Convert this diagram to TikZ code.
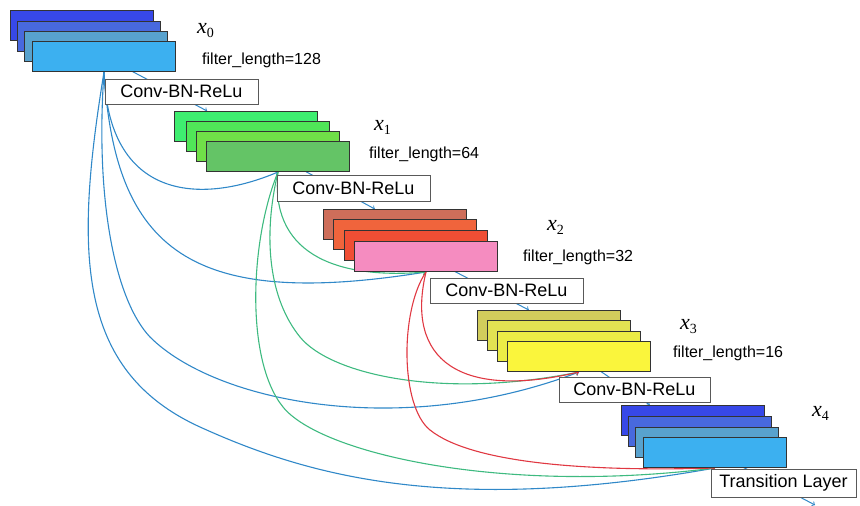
\documentclass[tikz,border=0pt]{standalone}
\usepackage{fontspec}
\setmainfont{Liberation Sans}
\newfontfamily\xfont{Liberation Serif}
\usetikzlibrary{calc}

\pgfdeclarelayer{background}
\pgfsetlayers{background,main}

\definecolor{bluA}{RGB}{55,72,232}
\definecolor{bluB}{RGB}{72,105,222}
\definecolor{bluC}{RGB}{88,162,206}
\definecolor{bluD}{RGB}{60,176,240}
\definecolor{grnA}{RGB}{62,238,112}
\definecolor{grnB}{RGB}{80,230,88}
\definecolor{grnC}{RGB}{112,224,72}
\definecolor{grnD}{RGB}{100,196,102}
\definecolor{redA}{RGB}{206,110,90}
\definecolor{redB}{RGB}{240,100,60}
\definecolor{redC}{RGB}{240,78,52}
\definecolor{redD}{RGB}{245,140,192}
\definecolor{yelA}{RGB}{210,205,92}
\definecolor{yelB}{RGB}{226,226,82}
\definecolor{yelC}{RGB}{236,236,70}
\definecolor{yelD}{RGB}{250,245,60}
\definecolor{cblue}{RGB}{48,136,200}
\definecolor{cgreen}{RGB}{62,186,128}
\definecolor{cred}{RGB}{224,56,66}

\newcommand{\xvar}[1]{{\xfont\fontsize{22}{24}\selectfont\itshape x\raisebox{-4pt}{\fontsize{14}{14}\selectfont\upshape #1}}}

\begin{document}
\begin{tikzpicture}
  [x=1pt,y=-1pt,
   fmap/.style={draw=black!80,line width=1pt,anchor=north west,
     minimum width=143pt,minimum height=30pt,inner sep=0pt},
   convbox/.style={draw=black!65,fill=white,line width=1pt,
     minimum width=153pt,minimum height=25pt,inner sep=0pt,
     font=\fontsize{18}{20}\selectfont},
   flen/.style={anchor=base west,inner sep=0pt,font=\fontsize{16}{18}\selectfont},
   xlab/.style={anchor=base west,inner sep=0pt},
   flow/.style={->,draw=cblue,line width=1pt},
   skip/.style={->,line width=1.1pt}]
  \useasboundingbox (0,0) rectangle (860,506);

  % x0
  \node[fmap,fill=bluA] (s0a) at (10,10)  {};
  \node[fmap,fill=bluB] (s0b) at (17,21)  {};
  \node[fmap,fill=bluC] (s0c) at (24,31)  {};
  \node[fmap,fill=bluD] (s0d) at (32,41)  {};
  \node[xlab] (x0) at (197,33) {\xvar{0}};
  \node[flen] (l0) at (202,64) {filter\_length=128};
  \node[convbox] (c0) at (181.5,91.5) {Conv-BN-ReLu};

  % x1
  \node[fmap,fill=grnA] (s1a) at (174,111) {};
  \node[fmap,fill=grnB] (s1b) at (186,121) {};
  \node[fmap,fill=grnC] (s1c) at (196,131) {};
  \node[fmap,fill=grnD] (s1d) at (206,141) {};
  \node[xlab] (x1) at (374,130) {\xvar{1}};
  \node[flen] (l1) at (369,158) {filter\_length=64};
  \node[convbox,minimum height=26pt] (c1) at (353.5,188) {Conv-BN-ReLu};

  % x2
  \node[fmap,fill=redA] (s2a) at (323,209) {};
  \node[fmap,fill=redB] (s2b) at (333,219) {};
  \node[fmap,fill=redC] (s2c) at (344,230) {};
  \node[fmap,fill=redD] (s2d) at (354,241) {};
  \node[xlab] (x2) at (547,230) {\xvar{2}};
  \node[flen] (l2) at (523,261) {filter\_length=32};
  \node[convbox] (c2) at (506.5,290.5) {Conv-BN-ReLu};

  % x3
  \node[fmap,fill=yelA] (s3a) at (477,310) {};
  \node[fmap,fill=yelB] (s3b) at (487,320) {};
  \node[fmap,fill=yelC] (s3c) at (497,331) {};
  \node[fmap,fill=yelD] (s3d) at (507,341) {};
  \node[xlab] (x3) at (680,329) {\xvar{3}};
  \node[flen] (l3) at (673,357) {filter\_length=16};
  \node[convbox,minimum width=151pt] (c3) at (634.5,389.5) {Conv-BN-ReLu};

  % x4
  \node[fmap,fill=bluA] (s4a) at (621,405) {};
  \node[fmap,fill=bluB] (s4b) at (628,416) {};
  \node[fmap,fill=bluC] (s4c) at (635,427) {};
  \node[fmap,fill=bluD] (s4d) at (643,437) {};
  \node[xlab] (x4) at (812,416) {\xvar{4}};
  \node[convbox,minimum width=145pt,minimum height=28pt] (tl) at (783.5,483) {Transition Layer};
  \coordinate (out) at (815,505);

  \begin{pgfonlayer}{background}
    % main path
    \draw[flow] (s0d.center) -- ($(s1a.north west)!.23!(s1a.north east)$);
    \draw[flow] (s1d.center) -- ($(s2a.north west)!.36!(s2a.north east)$);
    \draw[flow] (s2d.center) -- ($(s3a.north west)!.36!(s3a.north east)$);
    \draw[flow] (s3d.center) -- ($(s4a.north west)!.2!(s4a.north east)$);
    \draw[flow] (s4d.center) -- (out);

    % dense links from x0
    \draw[skip,cblue] (s0d.south) .. controls (108,200) and (200,205) .. (s1d.south);
    \draw[skip,cblue] (s0d.south) .. controls (115,250) and (190,310) .. (s2d.south);
    \draw[skip,cblue] (s0d.south) .. controls (95,200) and (115,300) .. (150,337)
      .. controls (215,402) and (400,440) .. (s3d.south);
    \draw[skip,cblue] (s0d.south) .. controls (75,250) and (75,370) .. (200,427)
      .. controls (310,477) and (450,515) .. (s4d.south);

    % from x1
    \draw[skip,cgreen] (s1d.south) .. controls (270,250) and (330,280) .. (s2d.south);
    \draw[skip,cgreen] (s1d.south) .. controls (262,240) and (270,300) .. (300,337)
      .. controls (330,374) and (440,400) .. (s3d.south);
    \draw[skip,cgreen] (s1d.south) .. controls (250,240) and (245,360) .. (283,407)
      .. controls (320,453) and (500,495) .. (s4d.south);

    % from x2
    \draw[skip,cred] (s2d.south) .. controls (405,360) and (460,400) .. (s3d.south);
    \draw[skip,cred] (s2d.south) .. controls (400,310) and (400,406) .. (430,430)
      .. controls (470,462) and (580,472) .. (s4d.south);
  \end{pgfonlayer}
\end{tikzpicture}
\end{document}
